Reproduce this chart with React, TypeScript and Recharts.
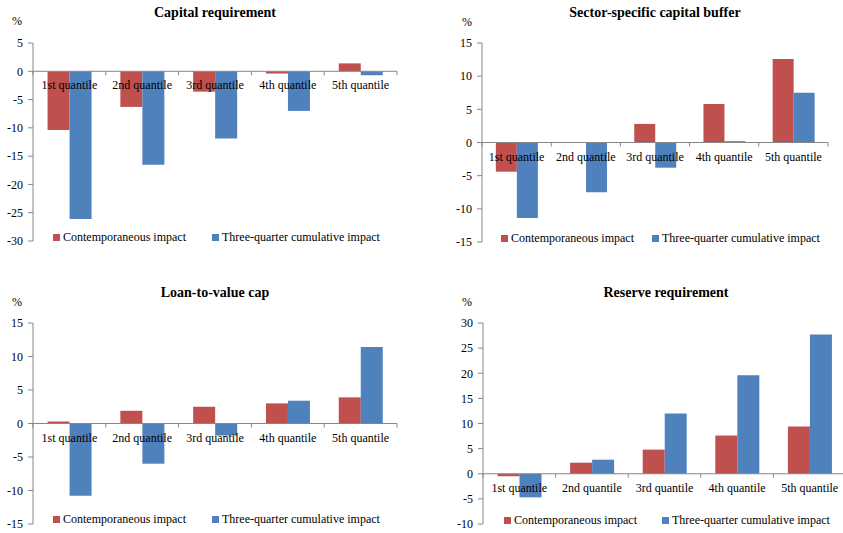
import React from "react";
import { Bar, BarChart, Legend, ReferenceLine, XAxis, YAxis } from "recharts";

const quantiles = ["1st quantile", "2nd quantile", "3rd quantile", "4th quantile", "5th quantile"];
const seriesNames = ["Contemporaneous impact", "Three-quarter cumulative impact"];

const capitalContemp = [-10.4, -6.3, -3.6, -0.4, 1.4];
const capitalCumul = [-26.1, -16.5, -11.9, -7.0, -0.7];
const capitalTicks = [5, 0, -5, -10, -15, -20, -25, -30];

const bufferContemp = [-4.4, 0, 2.8, 5.8, 12.6];
const bufferCumul = [-11.4, -7.5, -3.8, 0.2, 7.5];
const bufferTicks = [15, 10, 5, 0, -5, -10, -15];

const ltvContemp = [0.3, 1.9, 2.5, 3.0, 3.9];
const ltvCumul = [-10.8, -6.0, -1.8, 3.4, 11.4];
const ltvTicks = [15, 10, 5, 0, -5, -10, -15];

const reserveContemp = [-0.5, 2.2, 4.8, 7.6, 9.4];
const reserveCumul = [-4.7, 2.8, 12.0, 19.6, 27.7];
const reserveTicks = [30, 25, 20, 15, 10, 5, 0, -5, -10];

const RED = "#C0504D";
const BLUE = "#4F81BD";
const AXIS = "#868686";
const FONT = "'Liberation Serif', 'Times New Roman', serif";

type Box = { left: number; top: number; width: number; height: number };
type Plot = { left: number; top: number; right: number; bottom: number };

type PanelProps = {
  title: string;
  contemp: number[];
  cumul: number[];
  ticks: number[];
  box: Box;
  plot: Plot;
  titleAt: [number, number];
  pctAt: [number, number];
  legendAt: [number, number, number];
};

// category labels and boundary ticks hang off the zero line
function ZeroAxis(props: any) {
  const vb = props.viewBox;
  if (!vb) return null;
  const band = vb.width / quantiles.length;
  return (
    <g>
      {quantiles.concat([""]).map((_, i) => (
        <line key={"t" + i} x1={vb.x + i * band} x2={vb.x + i * band} y1={vb.y} y2={vb.y + 4} stroke={AXIS} />
      ))}
      {quantiles.map((q, i) => (
        <text key={q} x={vb.x + (i + 0.5) * band} y={vb.y + 18} textAnchor="middle" fontSize={12} fontFamily={FONT} fill="#000">
          {q}
        </text>
      ))}
    </g>
  );
}

function Panel({ title, contemp, cumul, ticks, box, plot, titleAt, pctAt, legendAt }: PanelProps) {
  const data = quantiles.map((q, i) => ({ q, contemp: contemp[i], cumul: cumul[i] }));
  const lo = Math.min(...ticks);
  const hi = Math.max(...ticks);
  const [redX, blueX, legendY] = legendAt;

  return (
    <div style={{ position: "absolute", left: box.left, top: box.top, width: box.width, height: box.height }}>
      <div
        style={{
          position: "absolute",
          left: titleAt[0] - box.left - 150,
          top: titleAt[1] - box.top - 9,
          width: 300,
          textAlign: "center",
          fontFamily: FONT,
          fontWeight: "bold",
          fontSize: 14,
          lineHeight: "18px",
        }}
      >
        {title}
      </div>
      <div
        style={{
          position: "absolute",
          left: pctAt[0] - box.left - 10,
          top: pctAt[1] - box.top - 8,
          width: 20,
          textAlign: "center",
          fontFamily: FONT,
          fontSize: 12,
          lineHeight: "16px",
        }}
      >
        %
      </div>
      <BarChart
        width={box.width}
        height={box.height}
        data={data}
        margin={{
          top: plot.top - box.top,
          right: box.left + box.width - plot.right,
          bottom: box.top + box.height - plot.bottom,
          left: 0,
        }}
        barCategoryGap="20%"
        barGap={0}
        style={{ position: "absolute", left: 0, top: 0 }}
      >
        <XAxis dataKey="q" hide />
        <YAxis
          width={plot.left - box.left}
          domain={[lo, hi]}
          ticks={ticks}
          interval={0}
          axisLine={{ stroke: AXIS }}
          tickLine={{ stroke: AXIS }}
          tickSize={5}
          tickMargin={5}
          tick={{ fill: "#000", fontSize: 12, fontFamily: FONT }}
        />
        <Bar dataKey="contemp" name={seriesNames[0]} fill={RED} isAnimationActive={false} />
        <Bar dataKey="cumul" name={seriesNames[1]} fill={BLUE} isAnimationActive={false} />
        <ReferenceLine y={0} stroke={AXIS} label={(p: any) => <ZeroAxis {...p} />} />
        <Legend
          layout="horizontal"
          align="center"
          verticalAlign="middle"
          wrapperStyle={{ position: "absolute", left: 0, top: legendY - box.top - 7, width: box.width }}
          content={(p: any) => (
            <div style={{ position: "relative", height: 14, fontFamily: FONT, fontSize: 12, lineHeight: "14px" }}>
              {(p.payload || []).map((e: any, i: number) => (
                <div
                  key={e.value}
                  style={{
                    position: "absolute",
                    left: (i === 0 ? redX : blueX) - box.left,
                    top: 0,
                    display: "flex",
                    alignItems: "center",
                    whiteSpace: "nowrap",
                  }}
                >
                  <span style={{ display: "inline-block", width: 7, height: 7, background: e.color, marginRight: 3 }} />
                  {e.value}
                </div>
              ))}
            </div>
          )}
        />
      </BarChart>
    </div>
  );
}

export default function App() {
  return (
    <div style={{ position: "absolute", left: 0, top: 0, width: 843, height: 533, overflow: "hidden", background: "#fff" }}>
      <Panel
        title="Capital requirement"
        contemp={capitalContemp}
        cumul={capitalCumul}
        ticks={capitalTicks}
        box={{ left: 0, top: 0, width: 421, height: 266 }}
        plot={{ left: 33, top: 43, right: 397, bottom: 241 }}
        titleAt={[215, 13]}
        pctAt={[17, 21]}
        legendAt={[53, 212, 237]}
      />
      <Panel
        title="Sector-specific capital buffer"
        contemp={bufferContemp}
        cumul={bufferCumul}
        ticks={bufferTicks}
        box={{ left: 421, top: 0, width: 422, height: 266 }}
        plot={{ left: 482, top: 43, right: 828, bottom: 242 }}
        titleAt={[655, 13]}
        pctAt={[467, 22]}
        legendAt={[501, 652, 238]}
      />
      <Panel
        title="Loan-to-value cap"
        contemp={ltvContemp}
        cumul={ltvCumul}
        ticks={ltvTicks}
        box={{ left: 0, top: 266, width: 421, height: 267 }}
        plot={{ left: 33, top: 323, right: 397, bottom: 524 }}
        titleAt={[215, 293]}
        pctAt={[17, 302]}
        legendAt={[53, 212, 519]}
      />
      <Panel
        title="Reserve requirement"
        contemp={reserveContemp}
        cumul={reserveCumul}
        ticks={reserveTicks}
        box={{ left: 421, top: 266, width: 430, height: 267 }}
        plot={{ left: 483, top: 323, right: 846, bottom: 524 }}
        titleAt={[666, 293]}
        pctAt={[467, 302]}
        legendAt={[504, 662, 520]}
      />
    </div>
  );
}
